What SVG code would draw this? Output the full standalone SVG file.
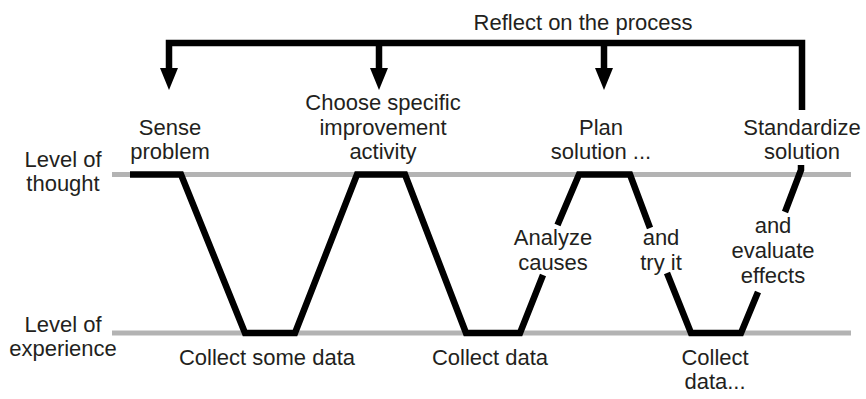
<svg xmlns="http://www.w3.org/2000/svg" width="866" height="399" viewBox="0 0 866 399">
<defs>
<style>
.lvl{stroke:#b3b3b3;stroke-width:5;fill:none}
.path{stroke:#000;stroke-width:6.5;fill:none;stroke-linejoin:miter;stroke-linecap:butt}
.arr{fill:#000}
text{font-family:"Liberation Sans",Arial,sans-serif;font-size:22px;fill:#231f20;text-anchor:middle}
</style>
</defs>
<rect width="866" height="399" fill="#fff"/>
<g id="levels">
<line class="lvl" x1="112" y1="174.5" x2="851" y2="174.5"/>
<line class="lvl" x1="112" y1="333" x2="851" y2="333"/>
</g>
<g id="connectors">
<path class="path" d="M130,174.5 H181 L245,333 H295 L357,174.5 H405 L466,333 H520 L543,275"/>
<path class="path" d="M557.5,225 L579,174.5 H630 L650,228"/>
<path class="path" d="M667,273 L691,333 H741 L758,292"/>
<path class="path" d="M785,212 L801,170 V165"/>
<path class="path" d="M169,68 V43 H802 V110"/>
<line class="path" x1="379" y1="43" x2="379" y2="70"/>
<line class="path" x1="604" y1="43" x2="604" y2="70"/>
<polygon class="arr" points="160,68 178,68 169,90"/>
<polygon class="arr" points="370,68 388,68 379,90"/>
<polygon class="arr" points="595,68 613,68 604,90"/>
</g>
<g id="reflect"><text x="583" y="30">Reflect on the process</text></g>
<g id="sense"><text x="170" y="135">Sense</text><text x="170" y="159">problem</text></g>
<g id="choose"><text x="383" y="110">Choose specific</text><text x="383" y="135">improvement</text><text x="383" y="159">activity</text></g>
<g id="plan"><text x="601" y="135">Plan</text><text x="601" y="159">solution ...</text></g>
<g id="standardize"><text x="802" y="135">Standardize</text><text x="802" y="159">solution</text></g>
<g id="thought"><text x="63" y="167">Level of</text><text x="63" y="191">thought</text></g>
<g id="experience"><text x="63" y="332">Level of</text><text x="63" y="356">experience</text></g>
<g id="collect1"><text x="267" y="365">Collect some data</text></g>
<g id="collect2"><text x="490" y="365">Collect data</text></g>
<g id="collect3"><text x="715" y="365">Collect</text><text x="715" y="389">data...</text></g>
<g id="analyze"><text x="553" y="245">Analyze</text><text x="553" y="270">causes</text></g>
<g id="tryit"><text x="661" y="245">and</text><text x="661" y="270">try it</text></g>
<g id="evaluate"><text x="773" y="233">and</text><text x="773" y="258">evaluate</text><text x="773" y="283">effects</text></g>
</svg>
